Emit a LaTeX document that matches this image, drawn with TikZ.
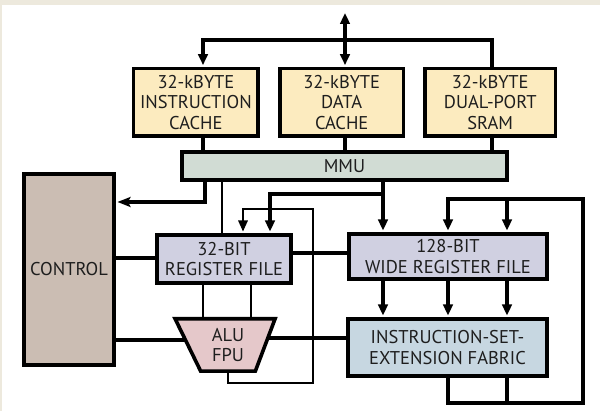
\documentclass[tikz,border=0pt]{standalone}
\usepackage{fontspec}
\setmainfont{PT Sans}
\usetikzlibrary{arrows.meta,shapes.geometric}
\definecolor{beige}{HTML}{EDE9DD}
\definecolor{cacheY}{HTML}{FCEBBF}
\definecolor{mmuG}{HTML}{D1DCD4}
\definecolor{ctrlT}{HTML}{CBBDB3}
\definecolor{regL}{HTML}{D0D0E1}
\definecolor{aluP}{HTML}{E5C8CA}
\definecolor{iseB}{HTML}{C7D7E1}
\definecolor{txt}{HTML}{1E1E1E}
\pgfdeclarelayer{bg}
\pgfdeclarelayer{lines}
\pgfsetlayers{bg,lines,main}
\begin{document}
\begin{tikzpicture}[x=1pt,y=-1pt,
  box/.style={draw=black, line width=3.6pt, inner sep=0pt, align=center,
    font=\fontsize{18.5}{20.8}\selectfont, text=txt},
  thk/.style={line width=3.6pt},
  thn/.style={line width=1.6pt},
  arr/.style={-{Triangle[length=11pt,width=9.5pt]}, shorten >=1.6pt},
  arrS/.style={-{Stealth[length=13pt,width=10pt,inset=2.5pt]}, shorten >=1.6pt}]
\useasboundingbox (0,0) rectangle (600,411);
\begin{pgfonlayer}{bg}
\fill[white] (0,0) rectangle (600,411);
\fill[beige] (0,0) rectangle (600,5.5);
\fill[beige] (0,0) rectangle (2,411);
\end{pgfonlayer}

% nodes
\node[box, fill=cacheY, minimum width=124.7, minimum height=67.7] (icache) at (195.9,102.4) {32-kBYTE\\INSTRUCTION\\CACHE};
\node[box, fill=cacheY, minimum width=123.2, minimum height=67.7] (dcache) at (341.7,102.4) {32-kBYTE\\DATA\\CACHE};
\node[box, fill=cacheY, minimum width=130.2, minimum height=67.7] (sram) at (490.2,102.4) {32-kBYTE\\DUAL-PORT\\SRAM};
\node[box, fill=mmuG, minimum width=325.2, minimum height=28.2] (mmu) at (344.5,166) {MMU};
\node[box, fill=ctrlT, minimum width=90.2, minimum height=191.2] (control) at (69,269.5) {CONTROL};
\node[box, fill=regL, minimum width=134.2, minimum height=48.2] (reg32) at (224,259) {32-BIT\\REGISTER FILE};
\node[box, fill=regL, minimum width=198.2, minimum height=45.2] (reg128) at (448,256.5) {128-BIT\\WIDE REGISTER FILE};
\node[box, fill=iseB, minimum width=199.2, minimum height=57.2] (ise) at (447.5,347.5) {INSTRUCTION-SET-\\EXTENSION FABRIC};
\node[box, fill=aluP, trapezium, trapezium stretches=true, shape border rotate=180,
  trapezium left angle=71, trapezium right angle=66,
  minimum width=100.2, minimum height=52.4] (alu) at (228,345) {ALU\\FPU};

% coordinates
\coordinate (top) at (345,13);
\coordinate (busL) at (203,40);
\coordinate (busR) at (492,40);
\coordinate (xd) at (345,0);
\coordinate (c1) at (205,202);
\coordinate (xt) at (222,0);
\coordinate (x383) at (383,0);
\coordinate (br) at (383,194);
\coordinate (x270) at (270,0);
\coordinate (fb1) at (313,383);
\coordinate (fb2) at (243,209);
\coordinate (xa1) at (203,0);
\coordinate (xa2) at (251,0);
\coordinate (xo) at (228,0);
\coordinate (xm) at (448,0);
\coordinate (xr) at (507,0);
\coordinate (loopBR) at (583,403);
\coordinate (loopTR) at (583,199);

\begin{pgfonlayer}{lines}
% top bus
\draw[thk, {Triangle[length=11pt,width=9.5pt]}-{Triangle[length=11pt,width=9.5pt]}, shorten >=1.6pt] (top) -- (dcache.north -| xd);
\draw[thk, arr] (busR |- dcache.north) |- (busL) -- (busL |- icache.north);
% caches to MMU
\draw[thk] (icache.south -| busL) -- (mmu.north -| busL);
\draw[thk] (dcache.south -| xd) -- (mmu.north -| xd);
\draw[thk] (sram.south -| busR) -- (mmu.north -| busR);
% MMU to control
\draw[thk, arrS] (mmu.south -| c1) |- (control.east |- c1);
% MMU thin to reg32
\draw[thn] (mmu.south -| xt) -- (reg32.north -| xt);
% MMU to register files
\draw[thk, arr] (mmu.south -| x383) -- (reg128.north -| x383);
\draw[thk, arr] (br) -| (reg32.north -| x270);
% ALU output loop back to reg32
\draw[thn, arr] (alu.center -| xo) |- (fb1) |- (fb2) -- (reg32.north -| fb2);
% control - reg32, reg32 - reg128
\draw[thk] (control.east |- 0,258) -- (reg32.west |- 0,258);
\draw[thk] (reg32.east |- 0,253) -- (reg128.west |- 0,253);
% reg32 - ALU
\draw[thn] (reg32.south -| xa1) -- (alu.center -| xa1);
\draw[thn] (reg32.south -| xa2) -- (alu.center -| xa2);
% control - ALU - ISE
\draw[thk] (control.east |- 0,340) -- (alu.center |- 0,340);
\draw[thk] (alu.center |- 0,338) -- (ise.west |- 0,338);
% reg128 to ISE
\draw[thk, arr] (reg128.south -| x383) -- (ise.north -| x383);
\draw[thk, arr] (reg128.south -| xm) -- (ise.north -| xm);
\draw[thk, arr] (reg128.south -| xr) -- (ise.north -| xr);
% feedback loop
\draw[thk, arr] (ise.south -| xm) |- (loopBR) -- (loopTR) -- (loopTR -| xm) -- (reg128.north -| xm);
\draw[thk] (ise.south -| xr) -- (loopBR -| xr);
\draw[thk, arr] (loopTR -| xr) -- (reg128.north -| xr);
\end{pgfonlayer}
\end{tikzpicture}
\end{document}
